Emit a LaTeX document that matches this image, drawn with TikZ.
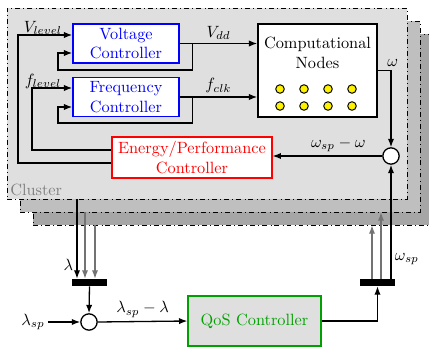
\documentclass[tikz,border=0pt]{standalone}
\usepackage{amsmath}
\usepackage{xcolor}
\usetikzlibrary{arrows.meta, positioning}
\definecolor{qosGreen}{HTML}{00A000}
\tikzset{
  ctrlbox/.style={
    draw=#1, thick, fill=white, text=#1,
    align=center, minimum width=65pt, minimum height=23.9pt, inner sep=2pt
  },
  clusterbox/.style={draw, dash dot, fill=#1, minimum width=245.2pt, minimum height=117.1pt},
  sumnode/.style={circle, draw, thick, fill=white, minimum size=10pt, inner sep=0pt},
  muxbar/.style={fill=black, minimum width=21.5pt, minimum height=4.3pt, inner sep=0pt},
  arr/.style={-{Latex[length=1.8mm]}, thick},
  grayarr/.style={-{Latex[length=1.8mm]}, thick, black!55},
  sig/.style={inner sep=2pt}
}

\begin{document}
\begin{tikzpicture}[
  x=0.613pt, y=-0.613pt,
  cnode/.style={circle, draw, semithick, fill=yellow, minimum size=5.2pt, inner sep=0pt}
]
\useasboundingbox (0,0) rectangle (429,347);

% Cluster stack
\node[clusterbox=gray!70] (cl3) at (233,129.5) {};
\node[clusterbox=gray!50] (cl2) at (220,116.5) {};
\node[clusterbox=gray!25] (cl1) at (207,103.5) {};
\node[anchor=south west, text=gray, inner sep=2pt] (cllabel) at (cl1.south west) {Cluster};

% Controllers inside the cluster
\node[ctrlbox=blue] (vc) at (126,43.5) {Voltage\\Controller};
\node[ctrlbox=blue] (fc) at (126,97) {Frequency\\Controller};
\node[ctrlbox=red, minimum width=98pt, minimum height=25.1pt] (ep) at (192,157.5) {Energy/Performance\\Controller};

% Computational nodes
\node[draw, thick, fill=white, minimum width=73pt, minimum height=57pt] (cn) at (317.5,70.5) {};
\node[align=center] (cntext) at (317.5,53) {Computational\\Nodes};
\foreach \i in {0,...,3} {
  \node[cnode] (da\i) at ({280+24*\i},89) {};
  \node[cnode] (db\i) at ({280+24*\i},106) {};
}

\node[sumnode] (sw) at (391,156) {};

% Level signals from the energy/performance controller
\draw[arr] (ep.west |- 0,163) -| (18,35) -- (vc.west |- 0,35);
\node[sig] at (43,28) {$V_{level}$};
\draw[arr] (ep.west |- 0,150) -| (32,88) -- (fc.west |- 0,88);
\node[sig] at (43,81) {$f_{level}$};

% Local feedback loops
\draw[arr] (vc.east) -- ++(13,0) |- (58,70) |- (vc.west |- 0,53);
\draw[arr] (fc.east) -- ++(13,0) |- (58,123) |- (fc.west |- 0,107);

% Supply to the nodes
\draw[arr] (vc.east) -- (vc.east -| cn.west) node[sig, midway, above] {$V_{dd}$};
\draw[arr] (fc.east) -- (fc.east -| cn.west) node[sig, midway, above] {$f_{clk}$};

% Throughput feedback
\draw[arr] (cn.east) -| (sw.north) node[sig, pos=0.5, above, xshift=1pt] {$\omega$};
\draw[arr] (sw.west) -- (sw.west -| ep.east) node[sig, pos=0.4, above] {$\omega_{sp}-\omega$};

% QoS loop
\node[muxbar] (barL) at (89.5,282.5) {};
\node[muxbar] (barR) at (377.5,282.5) {};
\node[sumnode] (sl) at (89,322) {};
\node[draw=qosGreen, thick, fill=gray!25, text=qosGreen, minimum width=81.5pt, minimum height=30.7pt] (qos) at (254.5,321) {QoS Controller};
\node[sig] (lsp) at (33,322) {$\lambda_{sp}$};

\draw[arr] (cl1.south -| 77,0) -- (barL.north -| 77,0) node[sig, pos=0.83, left] {$\lambda$};
\draw[grayarr] (cl2.south -| 85,0) -- (barL.north -| 85,0);
\draw[grayarr] (cl3.south -| 95,0) -- (barL.north -| 95,0);
\draw[arr] (barL.south) -- (sl.north);
\draw[arr] (lsp.east) -- (sl.west);
\draw[arr] (sl.east) -- (qos.west) node[sig, midway, above] {$\lambda_{sp}-\lambda$};
\draw[arr] (qos.east) -| (barR.south);

\draw[grayarr] (barR.north -| 372,0) -- (cl3.south -| 372,0);
\draw[grayarr] (barR.north -| 381,0) -- (cl2.south -| 381,0);
\draw[arr] (barR.north -| sw.south) -- (sw.south) node[sig, pos=0.17, right] {$\omega_{sp}$};

\end{tikzpicture}
\end{document}
